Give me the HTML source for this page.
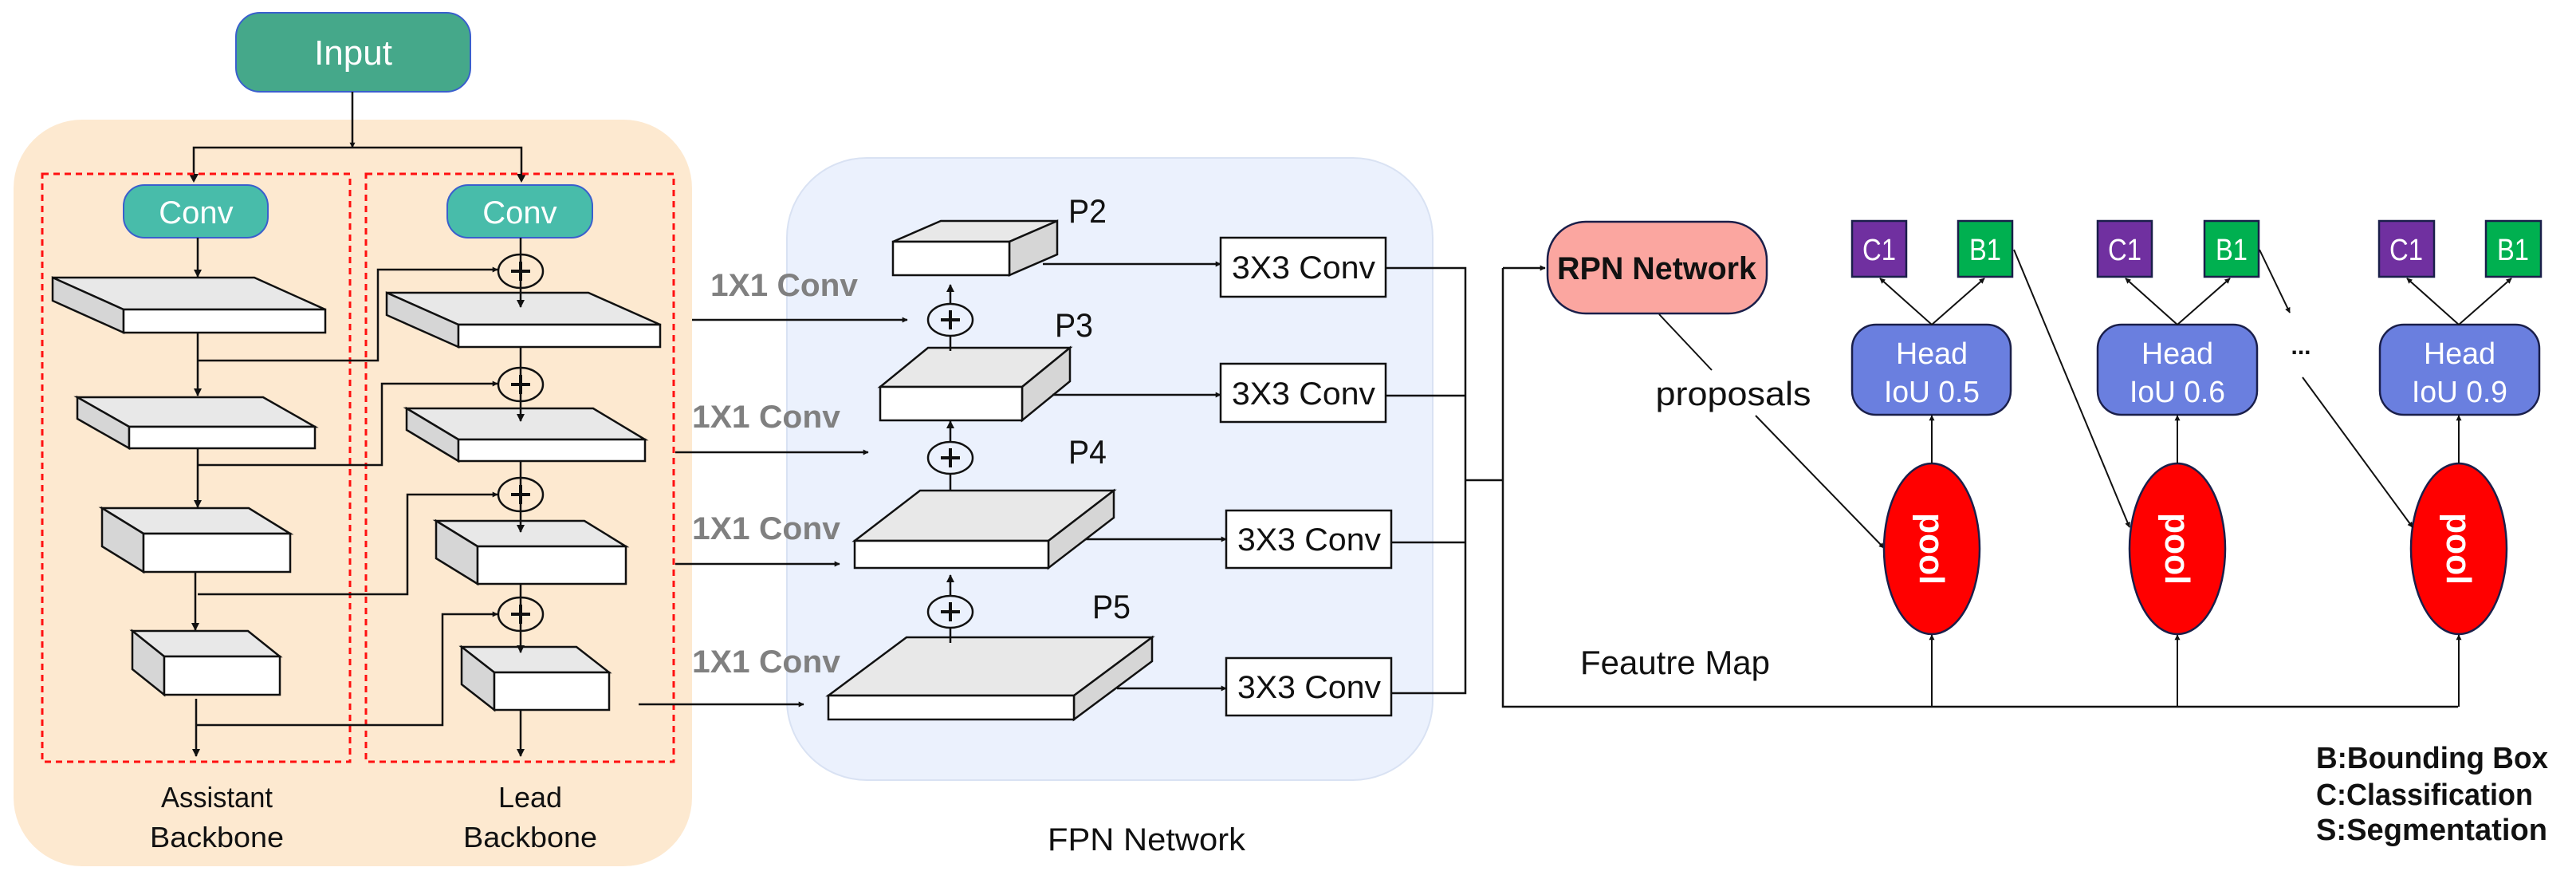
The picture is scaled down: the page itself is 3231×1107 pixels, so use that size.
<!DOCTYPE html>
<html><head><meta charset="utf-8"><style>
html,body{margin:0;padding:0;background:#fff;}
svg{display:block;}
text{font-family:"Liberation Sans",sans-serif;}
</style></head><body>
<svg width="3231" height="1107" viewBox="0 0 3231 1107" xmlns="http://www.w3.org/2000/svg">
<defs>
<marker id="a" viewBox="0 0 10 10" refX="9" refY="5" markerWidth="7" markerHeight="7" markerUnits="userSpaceOnUse" orient="auto"><path d="M0,0 L10,5 L0,10 z" fill="#111"/></marker>
<marker id="b" viewBox="0 0 10 10" refX="9" refY="5" markerWidth="10" markerHeight="10" markerUnits="userSpaceOnUse" orient="auto"><path d="M0,0 L10,5 L0,10 z" fill="#111"/></marker>
</defs>

<rect x="17" y="150" width="851" height="936" rx="86" fill="#fde9d0"/>
<rect x="987" y="198" width="810" height="780" rx="100" fill="#ebf1fd" stroke="#d9e2f3" stroke-width="2"/>

<rect x="296" y="16" width="294" height="99" rx="30" fill="#45a88a" stroke="#3a5fcd" stroke-width="2"/>
<text x="443" y="81" font-size="44" fill="#fff" text-anchor="middle">Input</text>
<g stroke="#111" stroke-width="2.5" fill="none">
<line x1="442" y1="115" x2="442" y2="185" marker-end="url(#a)"/>
<polyline points="243,227 243,185 654,185 654,227"/>
</g>
<path d="M237,218 L249,218 L243,229 z M648,218 L660,218 L654,229 z" fill="#111"/>

<rect x="53" y="218" width="386" height="737" fill="none" stroke="#ff1010" stroke-width="3" stroke-dasharray="8,6"/>
<rect x="459" y="218" width="386" height="737" fill="none" stroke="#ff1010" stroke-width="3" stroke-dasharray="8,6"/>

<rect x="155" y="232" width="181" height="66" rx="26" fill="#48bcaa" stroke="#3a5fcd" stroke-width="2"/>
<text x="246" y="280" font-size="40" fill="#fff" text-anchor="middle">Conv</text>
<rect x="561" y="232" width="182" height="66" rx="26" fill="#48bcaa" stroke="#3a5fcd" stroke-width="2"/>
<text x="652" y="280" font-size="40" fill="#fff" text-anchor="middle">Conv</text>

<g stroke="#111" stroke-width="2.5" stroke-linejoin="miter">
<polygon points="155,388 408,388 319,348 66,348" fill="#e8e8e8"/>
<polygon points="155,388 155,417 66,377 66,348" fill="#d6d6d6"/>
<rect x="155" y="388" width="253" height="29" fill="#fff"/>
<polygon points="162,535 395,535 330,498 97,498" fill="#e8e8e8"/>
<polygon points="162,535 162,562 97,525 97,498" fill="#d6d6d6"/>
<rect x="162" y="535" width="233" height="27" fill="#fff"/>
<polygon points="180,669 364,669 312,637 128,637" fill="#e8e8e8"/>
<polygon points="180,669 180,717 128,685 128,637" fill="#d6d6d6"/>
<rect x="180" y="669" width="184" height="48" fill="#fff"/>
<polygon points="206,823 351,823 311,791 166,791" fill="#e8e8e8"/>
<polygon points="206,823 206,871 166,839 166,791" fill="#d6d6d6"/>
<rect x="206" y="823" width="145" height="48" fill="#fff"/>
<polygon points="575,407 828,407 738,367 485,367" fill="#e8e8e8"/>
<polygon points="575,407 575,435 485,395 485,367" fill="#d6d6d6"/>
<rect x="575" y="407" width="253" height="28" fill="#fff"/>
<polygon points="575,551 809,551 744,512 510,512" fill="#e8e8e8"/>
<polygon points="575,551 575,578 510,539 510,512" fill="#d6d6d6"/>
<rect x="575" y="551" width="234" height="27" fill="#fff"/>
<polygon points="599,685 785,685 733,653 547,653" fill="#e8e8e8"/>
<polygon points="599,685 599,732 547,700 547,653" fill="#d6d6d6"/>
<rect x="599" y="685" width="186" height="47" fill="#fff"/>
<polygon points="620,843 764,843 723,811 579,811" fill="#e8e8e8"/>
<polygon points="620,843 620,890 579,858 579,811" fill="#d6d6d6"/>
<rect x="620" y="843" width="144" height="47" fill="#fff"/>
</g>

<g stroke="#111" stroke-width="2.5" fill="none">
<line x1="248" y1="298" x2="248" y2="347" marker-end="url(#b)"/>
<line x1="248" y1="417" x2="248" y2="496" marker-end="url(#b)"/>
<line x1="248" y1="562" x2="248" y2="636" marker-end="url(#b)"/>
<line x1="245" y1="717" x2="245" y2="790" marker-end="url(#b)"/>
<line x1="246" y1="876" x2="246" y2="948" marker-end="url(#b)"/>
<polyline points="248,452 474,452 474,338 624,338" marker-end="url(#a)"/>
<polyline points="248,583 479,583 479,481 624,481" marker-end="url(#a)"/>
<polyline points="248,745 511,745 511,620 624,620" marker-end="url(#a)"/>
<polyline points="246,909 555,909 555,770 624,770" marker-end="url(#a)"/>
<line x1="653" y1="298" x2="653" y2="385" marker-end="url(#b)"/>
<line x1="653" y1="435" x2="653" y2="528" marker-end="url(#b)"/>
<line x1="653" y1="578" x2="653" y2="667" marker-end="url(#b)"/>
<line x1="653" y1="732" x2="653" y2="818" marker-end="url(#b)"/>
<line x1="653" y1="890" x2="653" y2="948" marker-end="url(#b)"/>
</g>
<g stroke="#111" stroke-width="2.5" fill="none">
<ellipse cx="653" cy="340" rx="28" ry="21"/>
<ellipse cx="653" cy="482" rx="28" ry="21"/>
<ellipse cx="653" cy="620" rx="28" ry="21"/>
<ellipse cx="653" cy="770" rx="28" ry="21"/>
</g>
<g stroke="#111" stroke-width="4">
<line x1="641" y1="340" x2="665" y2="340"/><line x1="641" y1="482" x2="665" y2="482"/>
<line x1="641" y1="620" x2="665" y2="620"/><line x1="641" y1="770" x2="665" y2="770"/>
<line x1="653" y1="328" x2="653" y2="352"/><line x1="653" y1="470" x2="653" y2="494"/>
<line x1="653" y1="608" x2="653" y2="632"/><line x1="653" y1="758" x2="653" y2="782"/>
</g>

<g font-size="36" fill="#111" text-anchor="middle">
<text x="272" y="1012" textLength="140" lengthAdjust="spacingAndGlyphs">Assistant</text>
<text x="272" y="1062" textLength="168" lengthAdjust="spacingAndGlyphs">Backbone</text>
<text x="665" y="1012" textLength="80" lengthAdjust="spacingAndGlyphs">Lead</text>
<text x="665" y="1062" textLength="168" lengthAdjust="spacingAndGlyphs">Backbone</text>
</g>

<g font-size="40" font-weight="bold" fill="#808080">
<text x="891" y="371" textLength="185" lengthAdjust="spacingAndGlyphs">1X1 Conv</text>
<text x="868" y="536" textLength="186" lengthAdjust="spacingAndGlyphs">1X1 Conv</text>
<text x="868" y="676" textLength="186" lengthAdjust="spacingAndGlyphs">1X1 Conv</text>
<text x="868" y="843" textLength="186" lengthAdjust="spacingAndGlyphs">1X1 Conv</text>
</g>
<g stroke="#111" stroke-width="2.5" fill="none">
<line x1="868" y1="401" x2="1138" y2="401" marker-end="url(#a)"/>
<line x1="847" y1="567" x2="1089" y2="567" marker-end="url(#a)"/>
<line x1="847" y1="707" x2="1053" y2="707" marker-end="url(#a)"/>
<line x1="801" y1="883" x2="1008" y2="883" marker-end="url(#a)"/>
</g>

<g stroke="#111" stroke-width="2.5">
<polygon points="1120,303 1266,303 1326,277 1180,277" fill="#e8e8e8"/>
<polygon points="1266,303 1266,345 1326,319 1326,277" fill="#d6d6d6"/>
<rect x="1120" y="303" width="146" height="42" fill="#fff"/>
<polygon points="1104,485 1282,485 1342,436 1164,436" fill="#e8e8e8"/>
<polygon points="1282,485 1282,527 1342,478 1342,436" fill="#d6d6d6"/>
<rect x="1104" y="485" width="178" height="42" fill="#fff"/>
<polygon points="1072,678 1315,678 1397,615 1154,615" fill="#e8e8e8"/>
<polygon points="1315,678 1315,712 1397,649 1397,615" fill="#d6d6d6"/>
<rect x="1072" y="678" width="243" height="34" fill="#fff"/>
<polygon points="1039,872 1347,872 1445,799 1137,799" fill="#e8e8e8"/>
<polygon points="1347,872 1347,902 1445,829 1445,799" fill="#d6d6d6"/>
<rect x="1039" y="872" width="308" height="30" fill="#fff"/>
</g>
<g font-size="42" fill="#111">
<text x="1340" y="279" textLength="48" lengthAdjust="spacingAndGlyphs">P2</text>
<text x="1323" y="422" textLength="48" lengthAdjust="spacingAndGlyphs">P3</text>
<text x="1340" y="581" textLength="48" lengthAdjust="spacingAndGlyphs">P4</text>
<text x="1370" y="775" textLength="48" lengthAdjust="spacingAndGlyphs">P5</text>
</g>
<g stroke="#111" stroke-width="2.5" fill="none">
<line x1="1192" y1="440" x2="1192" y2="357" marker-end="url(#b)"/>
<line x1="1192" y1="614" x2="1192" y2="528" marker-end="url(#b)"/>
<line x1="1192" y1="806" x2="1192" y2="721" marker-end="url(#b)"/>
<ellipse cx="1192" cy="401" rx="28" ry="20" fill="#ebf1fd"/>
<ellipse cx="1192" cy="574" rx="28" ry="20" fill="#ebf1fd"/>
<ellipse cx="1192" cy="767" rx="28" ry="20" fill="#ebf1fd"/>
</g>
<g stroke="#111" stroke-width="4">
<line x1="1180" y1="401" x2="1204" y2="401"/><line x1="1192" y1="389" x2="1192" y2="413"/>
<line x1="1180" y1="574" x2="1204" y2="574"/><line x1="1192" y1="562" x2="1192" y2="586"/>
<line x1="1180" y1="767" x2="1204" y2="767"/><line x1="1192" y1="755" x2="1192" y2="779"/>
</g>

<g stroke="#111" stroke-width="2.5" fill="#fff">
<rect x="1531" y="298" width="207" height="74"/>
<rect x="1531" y="456" width="207" height="73"/>
<rect x="1538" y="640" width="207" height="72"/>
<rect x="1538" y="825" width="207" height="72"/>
</g>
<g font-size="40" fill="#111" text-anchor="middle">
<text x="1635" y="349" textLength="180" lengthAdjust="spacingAndGlyphs">3X3 Conv</text>
<text x="1635" y="507" textLength="180" lengthAdjust="spacingAndGlyphs">3X3 Conv</text>
<text x="1642" y="690" textLength="180" lengthAdjust="spacingAndGlyphs">3X3 Conv</text>
<text x="1642" y="875" textLength="180" lengthAdjust="spacingAndGlyphs">3X3 Conv</text>
</g>
<g stroke="#111" stroke-width="2.5" fill="none">
<line x1="1308" y1="331" x2="1531" y2="331" marker-end="url(#a)"/>
<line x1="1320" y1="495" x2="1531" y2="495" marker-end="url(#a)"/>
<line x1="1362" y1="676" x2="1538" y2="676" marker-end="url(#a)"/>
<line x1="1401" y1="863" x2="1538" y2="863" marker-end="url(#a)"/>
<polyline points="1738,336 1838,336 1838,869 1745,869"/>
<line x1="1738" y1="496" x2="1838" y2="496"/>
<line x1="1745" y1="680" x2="1838" y2="680"/>
<line x1="1838" y1="602" x2="1885" y2="602"/>
<polyline points="1885,336 1885,886 3083,886"/>
<line x1="1885" y1="336" x2="1938" y2="336" marker-end="url(#a)"/>
</g>
<text x="1438" y="1066" font-size="40" fill="#111" text-anchor="middle" textLength="248" lengthAdjust="spacingAndGlyphs">FPN Network</text>

<rect x="1941" y="278" width="275" height="115" rx="48" fill="#fba6a0" stroke="#1a1f4a" stroke-width="2.5"/>
<text x="2078" y="350" font-size="40" font-weight="bold" fill="#111" text-anchor="middle" textLength="250" lengthAdjust="spacingAndGlyphs">RPN Network</text>
<g stroke="#111" stroke-width="2" fill="none">
<line x1="2081" y1="394" x2="2147" y2="464"/>
<line x1="2202" y1="521" x2="2363" y2="687" marker-end="url(#a)"/>
</g>
<text x="2174" y="508" font-size="42" fill="#111" text-anchor="middle" textLength="195" lengthAdjust="spacingAndGlyphs">proposals</text>
<text x="2101" y="845" font-size="42" fill="#111" text-anchor="middle" textLength="238" lengthAdjust="spacingAndGlyphs">Feautre Map</text>

<g stroke="#1a1f4a" stroke-width="2.5">
<rect x="2323" y="277" width="68" height="70" fill="#7030a0"/>
<rect x="2456" y="277" width="68" height="70" fill="#00b050"/>
<rect x="2631" y="277" width="68" height="70" fill="#7030a0"/>
<rect x="2765" y="277" width="68" height="70" fill="#00b050"/>
<rect x="2984" y="277" width="69" height="70" fill="#7030a0"/>
<rect x="3118" y="277" width="69" height="70" fill="#00b050"/>
<rect x="2323" y="407" width="199" height="113" rx="30" fill="#6a7fdf"/>
<rect x="2631" y="407" width="200" height="113" rx="30" fill="#6a7fdf"/>
<rect x="2985" y="407" width="200" height="113" rx="30" fill="#6a7fdf"/>
<ellipse cx="2423" cy="688" rx="60" ry="107" fill="#ff0000"/>
<ellipse cx="2731" cy="688" rx="60" ry="107" fill="#ff0000"/>
<ellipse cx="3084" cy="688" rx="60" ry="107" fill="#ff0000"/>
</g>
<g font-size="38" fill="#fff" text-anchor="middle">
<text x="2357" y="326" textLength="42" lengthAdjust="spacingAndGlyphs">C1</text><text x="2490" y="326" textLength="40" lengthAdjust="spacingAndGlyphs">B1</text>
<text x="2665" y="326" textLength="42" lengthAdjust="spacingAndGlyphs">C1</text><text x="2799" y="326" textLength="40" lengthAdjust="spacingAndGlyphs">B1</text>
<text x="3018" y="326" textLength="42" lengthAdjust="spacingAndGlyphs">C1</text><text x="3152" y="326" textLength="40" lengthAdjust="spacingAndGlyphs">B1</text>
<text x="2423" y="456" textLength="90" lengthAdjust="spacingAndGlyphs">Head</text><text x="2423" y="504" textLength="120" lengthAdjust="spacingAndGlyphs">IoU 0.5</text>
<text x="2731" y="456" textLength="90" lengthAdjust="spacingAndGlyphs">Head</text><text x="2731" y="504" textLength="120" lengthAdjust="spacingAndGlyphs">IoU 0.6</text>
<text x="3085" y="456" textLength="90" lengthAdjust="spacingAndGlyphs">Head</text><text x="3085" y="504" textLength="120" lengthAdjust="spacingAndGlyphs">IoU 0.9</text>
</g>
<g font-size="44" font-weight="bold" fill="#fff" text-anchor="middle">
<text transform="translate(2408,688) rotate(90)" textLength="90" lengthAdjust="spacingAndGlyphs">pool</text>
<text transform="translate(2716,688) rotate(90)" textLength="90" lengthAdjust="spacingAndGlyphs">pool</text>
<text transform="translate(3069,688) rotate(90)" textLength="90" lengthAdjust="spacingAndGlyphs">pool</text>
</g>
<g stroke="#111" stroke-width="2" fill="none">
<line x1="2423" y1="407" x2="2358" y2="349" marker-end="url(#a)"/>
<line x1="2423" y1="407" x2="2489" y2="349" marker-end="url(#a)"/>
<line x1="2731" y1="407" x2="2666" y2="349" marker-end="url(#a)"/>
<line x1="2731" y1="407" x2="2797" y2="349" marker-end="url(#a)"/>
<line x1="3084" y1="407" x2="3019" y2="349" marker-end="url(#a)"/>
<line x1="3084" y1="407" x2="3150" y2="349" marker-end="url(#a)"/>
<line x1="2423" y1="581" x2="2423" y2="521" marker-end="url(#a)"/>
<line x1="2731" y1="581" x2="2731" y2="521" marker-end="url(#a)"/>
<line x1="3084" y1="581" x2="3084" y2="521" marker-end="url(#a)"/>
<line x1="2423" y1="886" x2="2423" y2="796" marker-end="url(#a)"/>
<line x1="2731" y1="886" x2="2731" y2="796" marker-end="url(#a)"/>
<line x1="3084" y1="886" x2="3084" y2="796" marker-end="url(#a)"/>
<line x1="2526" y1="313" x2="2671" y2="661" marker-end="url(#a)"/>
<line x1="2834" y1="313" x2="2872" y2="392" marker-end="url(#a)"/>
<line x1="2888" y1="473" x2="3026" y2="661" marker-end="url(#a)"/>
</g>
<text x="2886" y="444" font-size="30" font-weight="bold" fill="#111" text-anchor="middle">...</text>

<g font-size="38" font-weight="bold" fill="#111">
<text x="2905" y="963" textLength="291" lengthAdjust="spacingAndGlyphs">B:Bounding Box</text>
<text x="2905" y="1009" textLength="272" lengthAdjust="spacingAndGlyphs">C:Classification</text>
<text x="2905" y="1053" textLength="290" lengthAdjust="spacingAndGlyphs">S:Segmentation</text>
</g>
</svg>
</body></html>
